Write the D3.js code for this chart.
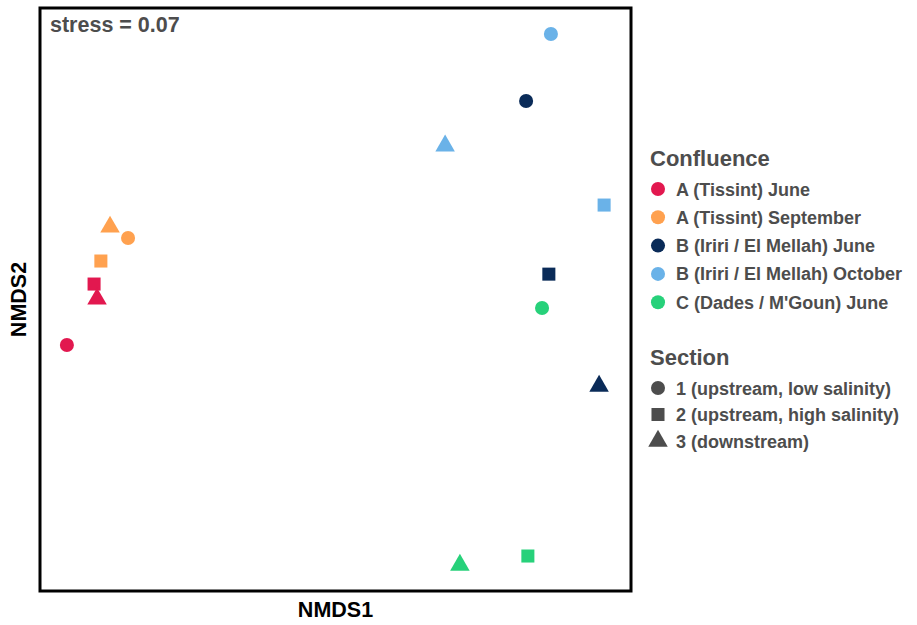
<!DOCTYPE html>
<html>
<head>
<meta charset="utf-8">
<script src="https://cdn.jsdelivr.net/npm/d3@7"></script>
<style>
  body { margin: 0; background: #fff; }
  svg { display: block; font-family: "Liberation Sans", Arial, sans-serif; }
</style>
</head>
<body>
<svg id="chart" width="917" height="625"></svg>
<script>
// ---- data ----
const confluences = ["A (Tissint) June", "A (Tissint) September", "B (Iriri / El Mellah) June", "B (Iriri / El Mellah) October", "C (Dades / M'Goun) June"];
const confluenceColors = ["#E2184F", "#FFA14F", "#0A2B58", "#6AB2E8", "#27D17A"];
const sections = ["1 (upstream, low salinity)", "2 (upstream, high salinity)", "3 (downstream)"];
const sampleConfluence = [0, 0, 0, 1, 1, 1, 2, 2, 2, 3, 3, 3, 4, 4, 4];
const sampleSection    = [0, 1, 2, 0, 1, 2, 0, 1, 2, 0, 1, 2, 0, 1, 2];
const nmds1 = [-0.909, -0.817, -0.807, -0.702, -0.794, -0.763, 0.645, 0.722, 0.892, 0.729, 0.909, 0.371, 0.699, 0.651, 0.421];
const nmds2 = [-0.156, 0.053, 0.002, 0.211, 0.132, 0.249, 0.681, 0.087, -0.297, 0.911, 0.324, 0.527, -0.029, -0.880, -0.911];
const stressLabel = "stress = 0.07";

// ---- layout ----
const svg = d3.select("#chart");
const panel = { left: 40, right: 631, top: 8, bottom: 591 };
const x = d3.scaleLinear().domain([-1, 1]).range([panel.left, panel.right]);
const y = d3.scaleLinear().domain([-1, 1]).range([panel.bottom, panel.top]);

const symbolTypes = [d3.symbolCircle, d3.symbolSquare, d3.symbolTriangle];
const symbolSizes = [155, 170, 165];
const sym = (s) => d3.symbol().type(symbolTypes[s]).size(symbolSizes[s])();

// points
const pts = d3.range(nmds1.length).map(i => ({ x: nmds1[i], y: nmds2[i], c: sampleConfluence[i], s: sampleSection[i] }));
svg.append("g").selectAll("path").data(pts).join("path")
  .attr("d", d => sym(d.s))
  .attr("transform", d => `translate(${x(d.x)},${y(d.y)})`)
  .attr("fill", d => confluenceColors[d.c]);

// panel border
svg.append("rect")
  .attr("x", panel.left).attr("y", panel.top)
  .attr("width", panel.right - panel.left).attr("height", panel.bottom - panel.top)
  .attr("fill", "none").attr("stroke", "#000").attr("stroke-width", 3);

// stress
svg.append("text").attr("x", 50).attr("y", 32)
  .attr("font-size", 21.5).attr("font-weight", "bold").attr("fill", "#4D4D4D")
  .text(stressLabel);

// axis titles
svg.append("text").attr("x", (panel.left + panel.right) / 2).attr("y", 617)
  .attr("text-anchor", "middle").attr("font-size", 21.5).attr("font-weight", "bold").attr("fill", "#000")
  .text("NMDS1");
svg.append("text").attr("transform", `translate(26,${(panel.top + panel.bottom) / 2}) rotate(-90)`)
  .attr("text-anchor", "middle").attr("font-size", 21.5).attr("font-weight", "bold").attr("fill", "#000")
  .text("NMDS2");

// legends
const lg = svg.append("g").attr("fill", "#4D4D4D").attr("font-weight", "bold");
lg.append("text").attr("x", 650).attr("y", 166).attr("font-size", 22).text("Confluence");
confluences.forEach((c, i) => {
  const yy = 189 + i * 28.3;
  lg.append("path").attr("d", sym(0)).attr("transform", `translate(658,${yy})`).attr("fill", confluenceColors[i]);
  lg.append("text").attr("x", 676).attr("y", yy + 6.5).attr("font-size", 18).text(c);
});
lg.append("text").attr("x", 650).attr("y", 365).attr("font-size", 22).text("Section");
sections.forEach((s, i) => {
  const yy = 388 + i * 26.5;
  lg.append("path").attr("d", sym(i)).attr("transform", `translate(658,${yy})`).attr("fill", "#4D4D4D");
  lg.append("text").attr("x", 676).attr("y", yy + 6.5).attr("font-size", 18).text(s);
});
</script>
</body>
</html>
